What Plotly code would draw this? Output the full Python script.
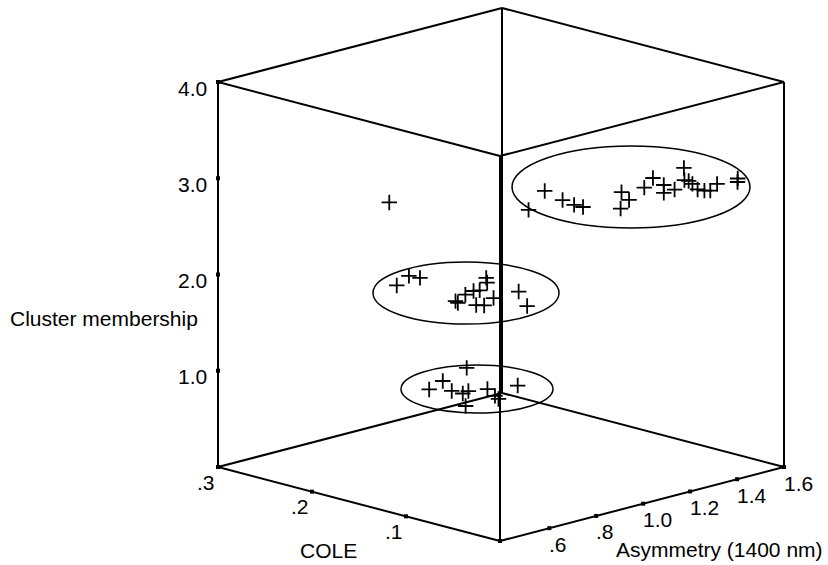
import plotly.graph_objects as go

# ---------------- data ----------------
cole = [0.071, 0.101, 0.073, 0.057, 0.048, 0.058, 0.038, 0.025, 0.055, 0.070, 0.050, 0.034,
        0.035, 0.074, 0.049, 0.045, 0.037, 0.023, 0.017, 0.014, 0.024, 0.024, 0.017, 0.160,
        0.183, 0.196, 0.186, 0.120, 0.115, 0.128, 0.131, 0.129, 0.151, 0.141, 0.101, 0.096,
        0.106, 0.106, 0.072,
        0.174, 0.150, 0.160, 0.135, 0.124, 0.126, 0.097, 0.120, 0.102, 0.094, 0.111]
asymmetry = [0.796, 0.985, 0.949, 0.934, 0.936, 1.140, 1.092, 1.004, 1.225, 1.322, 1.288, 1.224,
             1.274, 1.470, 1.372, 1.374, 1.358, 1.324, 1.329, 1.342, 1.411, 1.499, 1.470, 0.559,
             0.683, 0.787, 0.794, 0.681, 0.671, 0.755, 0.802, 0.820, 0.936, 0.900, 0.693, 0.707,
             0.787, 0.894, 0.794,
             0.945, 0.689, 0.787, 0.725, 0.728, 0.760, 0.632, 0.817, 0.777, 0.760, 0.910]
cluster = [3] * 24 + [2] * 15 + [1] * 11

cole_ticks = [0.1, 0.2, 0.3]
cole_labels = [".1", ".2", ".3"]
asym_ticks = [0.6, 0.8, 1.0, 1.2, 1.4, 1.6]
asym_labels = [".6", ".8", "1.0", "1.2", "1.4", "1.6"]
z_ticks = [1, 2, 3, 4]
z_labels = ["1.0", "2.0", "3.0", "4.0"]

# ---------------- oblique projection of the 3D box ----------------
COLE_MIN, COLE_MAX = 0.0, 0.3
ASYM_MIN, ASYM_MAX = 0.39, 1.6
Z_MIN, Z_MAX = 0.0, 4.0
ORIGIN = (500.0, 541.0)
U_VEC = (-282.0, -74.0)   # full COLE range
V_VEC = (284.0, -74.0)    # full asymmetry range
W_VEC = (0.0, -385.0)     # full cluster range


def proj(c, a, z):
    u = (c - COLE_MIN) / (COLE_MAX - COLE_MIN)
    v = (a - ASYM_MIN) / (ASYM_MAX - ASYM_MIN)
    w = (z - Z_MIN) / (Z_MAX - Z_MIN)
    x = ORIGIN[0] + u * U_VEC[0] + v * V_VEC[0] + w * W_VEC[0]
    y = ORIGIN[1] + u * U_VEC[1] + v * V_VEC[1] + w * W_VEC[1]
    return x, y


FONT = dict(family="Arial, Liberation Sans, sans-serif", size=21, color="black")

fig = go.Figure()

# box edges
corners = {}
for ci, c in enumerate([COLE_MIN, COLE_MAX]):
    for ai, a in enumerate([ASYM_MIN, ASYM_MAX]):
        for zi, z in enumerate([Z_MIN, Z_MAX]):
            corners[(ci, ai, zi)] = proj(c, a, z)
edges = []
for k in corners:
    for d in range(3):
        if k[d] == 0:
            k2 = list(k)
            k2[d] = 1
            edges.append((corners[k], corners[tuple(k2)]))
ex, ey = [], []
for p, q in edges:
    ex += [p[0], q[0], None]
    ey += [p[1], q[1], None]
fig.add_trace(go.Scatter(x=ex, y=ey, mode="lines", line=dict(color="black", width=2),
                         hoverinfo="skip", showlegend=False))

# tick marks
tx, ty = [], []
for t in cole_ticks:
    x, y = proj(t, ASYM_MIN, Z_MIN); tx.append(x); ty.append(y)
for t in asym_ticks:
    x, y = proj(COLE_MIN, t, Z_MIN); tx.append(x); ty.append(y)
for t in z_ticks:
    x, y = proj(COLE_MAX, ASYM_MIN, t); tx.append(x); ty.append(y)
tx.append(ORIGIN[0]); ty.append(ORIGIN[1])
fig.add_trace(go.Scatter(x=tx, y=ty, mode="markers",
                         marker=dict(symbol="square", size=4, color="black"),
                         hoverinfo="skip", showlegend=False))

# data points
px, py = zip(*[proj(c, a, z) for c, a, z in zip(cole, asymmetry, cluster)])
fig.add_trace(go.Scatter(x=px, y=py, mode="markers",
                         marker=dict(symbol="cross-thin", size=11,
                                     line=dict(width=1.8, color="black")),
                         showlegend=False))

# cluster ellipses (annotation outlines, screen units)
ellipses = [(631, 187, 119, 41), (466, 293, 93, 31), (477, 389, 76, 24)]
shapes = []
for cx, cy, rx, ry in ellipses:
    shapes.append(dict(type="circle", xref="x", yref="y", x0=cx - rx, x1=cx + rx,
                       y0=cy - ry, y1=cy + ry, line=dict(color="black", width=1.5)))

# labels
ann = []
for t, lab in zip(cole_ticks, cole_labels):
    x, y = proj(t, ASYM_MIN, Z_MIN)
    ann.append(dict(x=x - 12, y=y + 15, text=lab, xanchor="center", yanchor="middle"))
for t, lab in zip(asym_ticks, asym_labels):
    x, y = proj(COLE_MIN, t, Z_MIN)
    ann.append(dict(x=x - 2, y=y + 16, text=lab, xanchor="left", yanchor="middle"))
for t, lab in zip(z_ticks, z_labels):
    x, y = proj(COLE_MAX, ASYM_MIN, t)
    ann.append(dict(x=x - 9, y=y + 6, text=lab, xanchor="right", yanchor="middle"))
ann.append(dict(x=328, y=550, text="COLE", xanchor="center", yanchor="middle"))
ann.append(dict(x=825, y=549, text="Asymmetry (1400 nm)", xanchor="right", yanchor="middle"))
ann.append(dict(x=8, y=318, text="Cluster membership", xanchor="left", yanchor="middle"))
for a in ann:
    a.update(xref="x", yref="y", showarrow=False, font=FONT)

fig.update_layout(
    width=828, height=565,
    margin=dict(l=0, r=0, t=0, b=0),
    paper_bgcolor="white", plot_bgcolor="white",
    xaxis=dict(range=[0, 828], visible=False, fixedrange=True),
    yaxis=dict(range=[565, 0], visible=False, fixedrange=True),
    shapes=shapes, annotations=ann, showlegend=False,
)

# remove the browser's default 8px body margin so the figure fills the window
fig.write_html("out.html",
               config={"displayModeBar": False},
               post_script="document.body.style.margin='0';document.body.style.overflow='hidden';")
